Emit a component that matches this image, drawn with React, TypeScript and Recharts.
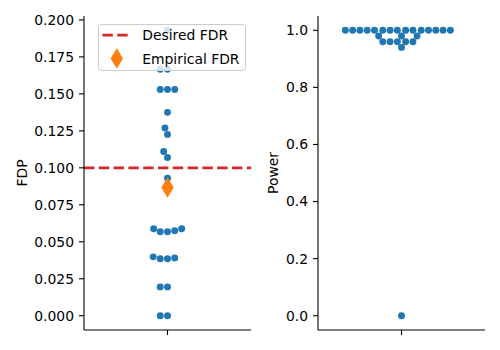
import React from 'react';
import { ScatterChart, Scatter, XAxis, YAxis, ReferenceLine, Legend } from 'recharts';

// ---- data ----
const fdpValues = [
  0, 0, 0.0195, 0.0195, 0.0385, 0.0385, 0.0391, 0.0398, 0.0568, 0.0568, 0.0575, 0.0588, 0.0588,
  0.093, 0.107, 0.111, 0.1226, 0.127, 0.1375, 0.153, 0.153, 0.153, 0.1667, 0.1667, 0.193,
];
const powerValues = [
  0, 0.94, 0.96, 0.96, 0.96, 0.96, 0.96, 0.98, 0.98, 0.98,
  1, 1, 1, 1, 1, 1, 1, 1, 1, 1, 1, 1, 1, 1, 1,
];
const desiredFDR = 0.1;
const fdpTicks = [0, 0.025, 0.05, 0.075, 0.1, 0.125, 0.15, 0.175, 0.2];
const powerTicks = [0, 0.2, 0.4, 0.6, 0.8, 1.0];
const legendLabels = ['Desired FDR', 'Empirical FDR'];
const axisLabels = ['FDP', 'Power'];
const categoryPos = 0;

// ---- style ----
const BLUE = '#1f77b4';
const ORANGE = '#ff7f0e';
const RED = '#d62728';
const FONT = '"DejaVu Sans", sans-serif';
const FS = 13.9;
const PLOT_W = 167;
const PLOT_H = 314;
const R = 3.47;

function autoDomain(vals: number[]): [number, number] {
  const lo = Math.min(...vals);
  const hi = Math.max(...vals);
  const m = (hi - lo) * 0.05;
  return [lo - m, hi + m];
}

// seaborn-like beeswarm layout (pixel space), returns points in data units
function swarm(values: number[], domain: [number, number]) {
  const pxY = PLOT_H / (domain[1] - domain[0]);
  const order = values.map((_, i) => i).sort((a, b) => values[a] - values[b] || a - b);
  const placed: { x: number; y: number }[] = [];
  const offsets = new Array(values.length).fill(0);
  order.forEach((idx, k) => {
    const y = values[idx] * pxY;
    if (k === 0) {
      placed.push({ x: 0, y });
      offsets[idx] = 0;
      return;
    }
    const neighbors: { x: number; y: number }[] = [];
    for (let j = placed.length - 1; j >= 0; j--) {
      if (y - placed[j].y < 2 * R) neighbors.push(placed[j]);
      else break;
    }
    const cands = [0];
    let leftFirst = true;
    for (const n of neighbors) {
      const dy = y - n.y;
      const dx = Math.sqrt(Math.max(4 * R * R - dy * dy, 0)) * 1.05;
      const cl = n.x - dx;
      const cr = n.x + dx;
      if (leftFirst) cands.push(cl, cr);
      else cands.push(cr, cl);
      leftFirst = !leftFirst;
    }
    const sorted = cands
      .map((c, i) => [c, i])
      .sort((a, b) => {
        const d = Math.abs(a[0]) - Math.abs(b[0]);
        if (Math.abs(d) > 1e-6) return d;
        if (Math.abs(a[0] - b[0]) > 1e-6) return a[0] - b[0];
        return a[1] - b[1];
      })
      .map((a) => a[0]);
    let chosen = sorted[0];
    if (neighbors.length) {
      for (const c of sorted) {
        if (neighbors.every((n) => (n.x - c) ** 2 + (n.y - y) ** 2 >= 4 * R * R)) {
          chosen = c;
          break;
        }
      }
    }
    placed.push({ x: chosen, y });
    offsets[idx] = chosen;
  });
  return values.map((v, i) => ({ x: categoryPos + offsets[i] / PLOT_W, y: v }));
}

const fdpDomain = autoDomain(fdpValues);
const powerDomain = autoDomain(powerValues);
const fdpPoints = swarm(fdpValues, fdpDomain);
const powerPoints = swarm(powerValues, powerDomain);
const empiricalFDR = fdpValues.reduce((s, v) => s + v, 0) / fdpValues.length;
const empiricalPoint = [{ x: categoryPos, y: empiricalFDR }];

const Dot = (p: any) => <circle cx={p.cx} cy={p.cy} r={R} fill={BLUE} />;
const diamondPts = (cx: number, cy: number) =>
  `${cx},${cy - 10.3} ${cx + 6.2},${cy} ${cx},${cy + 10.3} ${cx - 6.2},${cy}`;
const Diamond = (p: any) => <polygon points={diamondPts(p.cx, p.cy)} fill={ORANGE} />;

const tickStyle = { fill: 'black', fontSize: FS, fontFamily: FONT };

const AxisTitle = ({ text, posX }: { text: string; posX: number }) => {
  const y = 16 + PLOT_H / 2;
  return (
    <text
      x={posX}
      y={y}
      transform={`rotate(-90, ${posX}, ${y})`}
      textAnchor="middle"
      dominantBaseline="central"
      fontFamily={FONT}
      fontSize={FS}
      fill="black"
    >
      {text}
    </text>
  );
};

const LegendBox = () => (
  <svg width={149} height={48} style={{ display: 'block' }}>
    <rect x={0.5} y={0.5} width={147} height={46} rx={3} fill="white" fillOpacity={0.8} stroke="#cccccc" strokeWidth={1} />
    <line x1={4.5} x2={32.3} y1={11.2} y2={11.2} stroke={RED} strokeWidth={2.8} strokeDasharray="10.4 4.4" />
    <text x={44.2} y={11.2} dominantBaseline="central" fontFamily={FONT} fontSize={FS} fill="black">
      {legendLabels[0]}
    </text>
    <polygon points={diamondPts(18.8, 34.5)} fill={ORANGE} />
    <text x={44.2} y={34.5} dominantBaseline="central" fontFamily={FONT} fontSize={FS} fill="black">
      {legendLabels[1]}
    </text>
  </svg>
);

const xAxisProps = {
  type: 'number' as const,
  dataKey: 'x',
  domain: [-0.5, 0.5],
  ticks: [categoryPos],
  tickFormatter: () => '',
  tickSize: 5,
  height: 20,
  allowDataOverflow: true,
  axisLine: { stroke: 'black', strokeWidth: 1.1 },
  tickLine: { stroke: 'black', strokeWidth: 1.1 },
};

export default function App() {
  return (
    <div style={{ position: 'absolute', left: 0, top: 0, width: 500, height: 350, background: 'white' }}>
      <div style={{ position: 'absolute', left: 0, top: 0 }}>
        <ScatterChart width={260} height={350} margin={{ top: 16, right: 9, bottom: 0, left: 24 }}>
          <XAxis {...xAxisProps} />
          <YAxis
            type="number"
            dataKey="y"
            domain={fdpDomain}
            ticks={fdpTicks}
            allowDataOverflow
            width={60}
            tickSize={5}
            tickMargin={5}
            tick={tickStyle}
            tickFormatter={(v: number) => v.toFixed(3)}
            axisLine={{ stroke: 'black', strokeWidth: 1.1 }}
            tickLine={{ stroke: 'black', strokeWidth: 1.1 }}
            label={<AxisTitle text={axisLabels[0]} posX={21.7} />}
          />
          <ReferenceLine y={desiredFDR} stroke={RED} strokeWidth={2.8} strokeDasharray="10.4 4.4" />
          <Scatter data={fdpPoints} shape={Dot} isAnimationActive={false} />
          <Scatter data={empiricalPoint} shape={Diamond} isAnimationActive={false} />
          <Legend
            layout="horizontal"
            verticalAlign="middle"
            align="center"
            wrapperStyle={{ left: 97.5, top: 23.5, width: 149, height: 48 }}
            content={<LegendBox />}
          />
        </ScatterChart>
      </div>
      <div style={{ position: 'absolute', left: 260, top: 0 }}>
        <ScatterChart width={240} height={350} margin={{ top: 16, right: 15, bottom: 0, left: 24 }}>
          <XAxis {...xAxisProps} />
          <YAxis
            type="number"
            dataKey="y"
            domain={powerDomain}
            ticks={powerTicks}
            allowDataOverflow
            width={34}
            tickSize={5}
            tickMargin={5}
            tick={tickStyle}
            tickFormatter={(v: number) => v.toFixed(1)}
            axisLine={{ stroke: 'black', strokeWidth: 1.1 }}
            tickLine={{ stroke: 'black', strokeWidth: 1.1 }}
            label={<AxisTitle text={axisLabels[1]} posX={13.3} />}
          />
          <Scatter data={powerPoints} shape={Dot} isAnimationActive={false} />
        </ScatterChart>
      </div>
    </div>
  );
}
